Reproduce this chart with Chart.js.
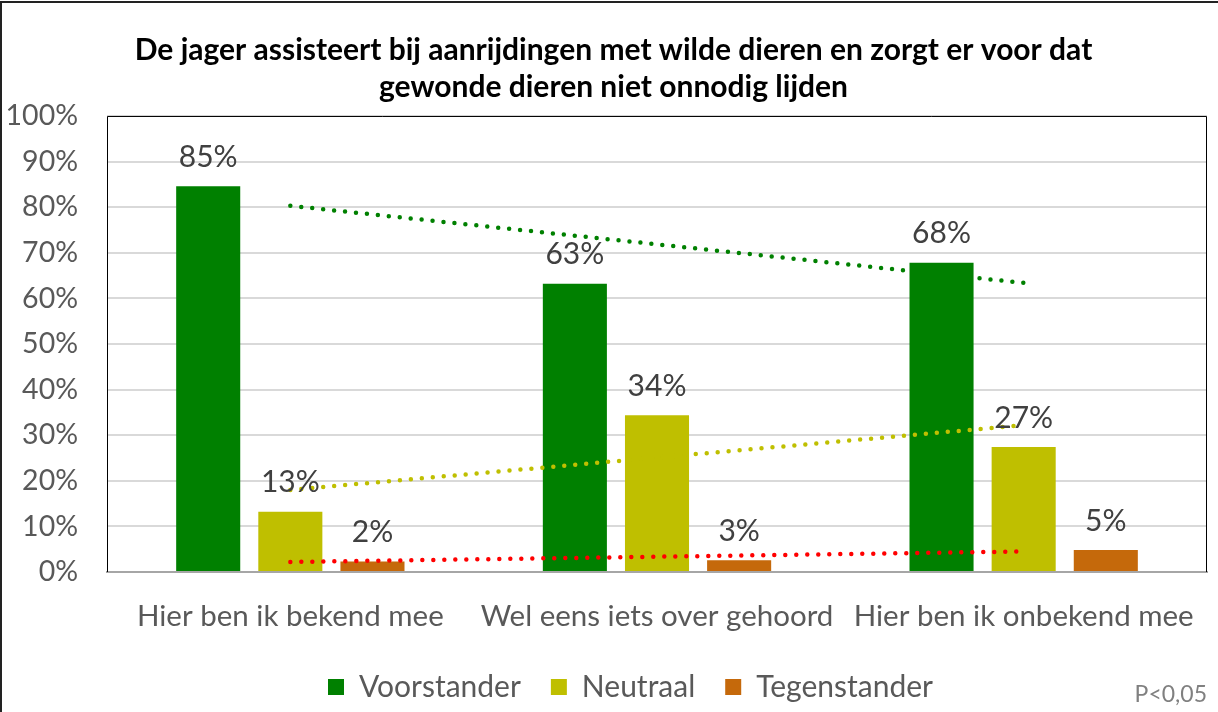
<!DOCTYPE html>
<html>
<head>
<meta charset="utf-8">
<script src="https://cdn.jsdelivr.net/npm/chart.js@4/dist/chart.umd.min.js"></script>
<style>
  body { margin: 0; background: #fff; }
  #wrap { position: relative; width: 1218px; height: 712px; }
</style>
</head>
<body>
<div id="wrap"><canvas id="chart" width="1218" height="712"></canvas></div>
<script>
// Chart data
const categories = ['Hier ben ik bekend mee', 'Wel eens iets over gehoord', 'Hier ben ik onbekend mee'];
const voorstander = [84.6, 63.2, 67.8];
const neutraal = [13.2, 34.4, 27.4];
const tegenstander = [2.3, 2.6, 4.8];
// Trendline endpoints (middle point left empty)
const trendVoor = [80.3, null, 63.4];
const trendNeutraal = [18.0, null, 32.2];
const trendTegen = [2.2, null, 4.5];
const yTicks = [0, 10, 20, 30, 40, 50, 60, 70, 80, 90, 100];

const FONT = 'Lato, "Open Sans", sans-serif';

const GREEN = '#008000';
const YELLOW = '#BFBF00';
const ORANGE = '#C5690B';

function trend(data, color) {
  return {
    type: 'line',
    data: data,
    borderColor: color,
    borderWidth: 4.5,
    borderDash: [0, 11],
    borderCapStyle: 'round',
    pointRadius: 0,
    fill: false,
    spanGaps: true,
    order: 0,
    isTrend: true
  };
}

// Labels above bars, plot frame, outer border and footnote
const decorations = {
  id: 'decorations',
  afterLayout(chart) {
    // title and legend sit a little right of centre in the original
    if (chart.titleBlock) { chart.titleBlock.left += 10; chart.titleBlock.right += 10; }
    if (chart.legend) { chart.legend.left += 27; chart.legend.right += 27; }
  },
  afterDatasetsDraw(chart) {
    const ctx = chart.ctx;
    ctx.save();
    ctx.fillStyle = '#404040';
    ctx.font = '30px ' + FONT;
    ctx.textAlign = 'center';
    ctx.textBaseline = 'middle';
    chart.data.datasets.forEach((ds, i) => {
      if (ds.isTrend) return;
      chart.getDatasetMeta(i).data.forEach((bar, j) => {
        ctx.fillText(Math.round(ds.data[j]) + '%', bar.x, bar.y - 29);
      });
    });
    ctx.restore();
  },
  afterDraw(chart) {
    const ctx = chart.ctx;
    const area = chart.chartArea;
    ctx.save();
    // plot area frame
    ctx.strokeStyle = '#000';
    ctx.lineWidth = 1;
    ctx.beginPath();
    ctx.moveTo(area.left + 0.5, area.bottom);
    ctx.lineTo(area.left + 0.5, area.top + 0.5);
    ctx.lineTo(area.right - 0.5, area.top + 0.5);
    ctx.lineTo(area.right - 0.5, area.bottom);
    ctx.stroke();
    // outer border (top and left visible)
    ctx.strokeStyle = '#222';
    ctx.lineWidth = 2;
    ctx.beginPath();
    ctx.moveTo(1, 720);
    ctx.lineTo(1, 2);
    ctx.lineTo(1230, 2);
    ctx.stroke();
    // footnote
    ctx.fillStyle = '#808080';
    ctx.font = '23px ' + FONT;
    ctx.textAlign = 'right';
    ctx.textBaseline = 'middle';
    ctx.fillText('P<0,05', 1207, 695);
    ctx.restore();
  }
};

new Chart(document.getElementById('chart'), {
  type: 'bar',
  data: {
    labels: categories,
    datasets: [
      { label: 'Voorstander', data: voorstander, backgroundColor: GREEN, order: 1 },
      { label: 'Neutraal', data: neutraal, backgroundColor: YELLOW, order: 1 },
      { label: 'Tegenstander', data: tegenstander, backgroundColor: ORANGE, order: 1 },
      trend(trendVoor, GREEN),
      trend(trendNeutraal, YELLOW),
      trend(trendTegen, '#FF0000')
    ]
  },
  options: {
    responsive: false,
    animation: false,
    categoryPercentage: 0.672,
    barPercentage: 0.78,
    layout: { padding: { left: 0, right: 11, top: 0, bottom: 0 } },
    scales: {
      x: {
        grid: { display: false },
        border: { color: '#A6A6A6', width: 2 },
        afterFit(axis) { axis.height = 70; },
        ticks: { color: '#595959', font: { family: FONT, size: 29.5 }, padding: 19, maxRotation: 0 }
      },
      y: {
        min: 0,
        max: 100,
        afterBuildTicks(axis) {
          axis.ticks = yTicks.map(v => ({ value: v }));
        },
        afterFit(axis) { axis.width = 107; },
        grid: { color: '#D9D9D9', lineWidth: 2, drawTicks: false },
        border: { display: false },
        ticks: {
          color: '#595959',
          font: { family: FONT, size: 28.5 },
          padding: 29,
          callback: v => v + '%'
        }
      }
    },
    plugins: {
      title: {
        display: true,
        text: ['De jager assisteert bij aanrijdingen met wilde dieren en zorgt er voor dat', 'gewonde dieren niet onnodig lijden'],
        color: '#000',
        font: { family: FONT, size: 30, weight: 'bold', lineHeight: 1.233 },
        padding: { top: 31.5, bottom: 10.5 }
      },
      legend: {
        position: 'bottom',
        labels: {
          filter: item => item.datasetIndex < 3,
          color: '#595959',
          font: { family: FONT, size: 30 },
          boxWidth: 16,
          boxHeight: 16,
          padding: 30
        }
      },
      tooltip: { enabled: false }
    }
  },
  plugins: [decorations]
});
</script>
</body>
</html>
